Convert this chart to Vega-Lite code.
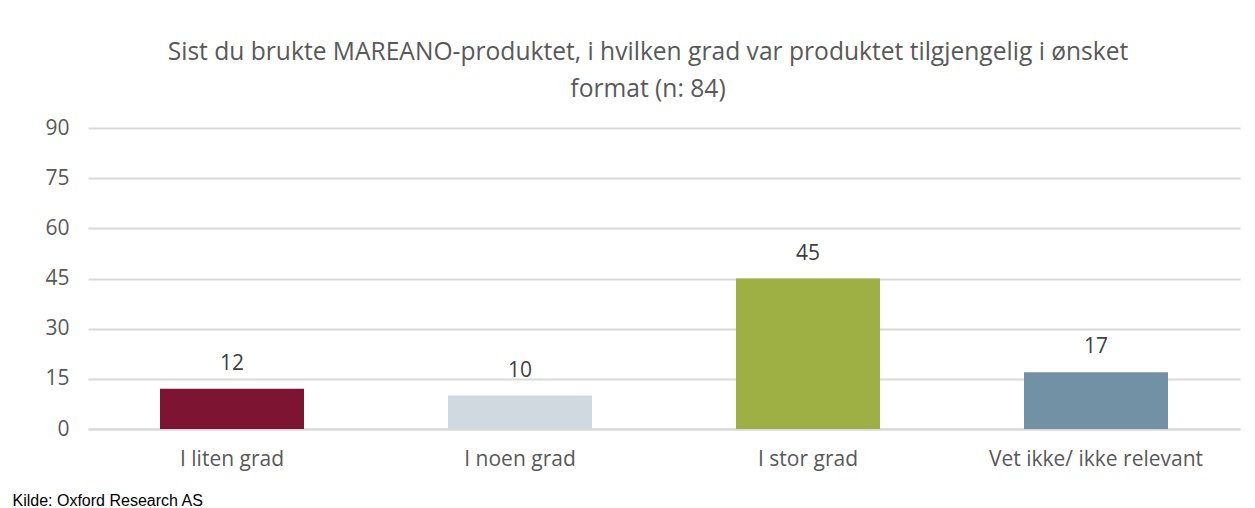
{
  "$schema": "https://vega.github.io/schema/vega-lite/v6.json",
  "autosize": "none",
  "width": 1152,
  "height": 301,
  "padding": {"left": 88, "top": 128, "right": 15, "bottom": 79},
  "background": "white",
  "title": {
    "text": ["Sist du brukte MAREANO-produktet, i hvilken grad var produktet tilgjengelig i ønsket", "format (n: 84)"],
    "font": "Open Sans",
    "fontSize": 24.6,
    "fontWeight": "normal",
    "color": "#595959",
    "lineHeight": 37,
    "anchor": "middle",
    "dx": -16,
    "offset": 14
  },
  "data": {
    "values": [
      {"kategori": "I liten grad", "antall": 12},
      {"kategori": "I noen grad", "antall": 10},
      {"kategori": "I stor grad", "antall": 45},
      {"kategori": "Vet ikke/ ikke relevant", "antall": 17}
    ]
  },
  "encoding": {
    "x": {
      "field": "kategori",
      "type": "nominal",
      "sort": null,
      "scale": {"paddingInner": 0.5, "paddingOuter": 0.25},
      "axis": {
        "title": "Kilde: Oxford Research AS",
        "titleFont": "Liberation Sans",
        "titleFontSize": 16,
        "titleFontWeight": "normal",
        "titleColor": "#000000",
        "titleAnchor": "start",
        "titleAlign": "left",
        "titleBaseline": "middle",
        "titleX": -76,
        "titleY": 71,
        "labelAngle": 0,
        "labelLimit": 0,
        "labelFont": "Open Sans",
        "labelFontSize": 21,
        "labelColor": "#595959",
        "labelPadding": 19,
        "ticks": false,
        "domainColor": "#d9d9d9",
        "domainWidth": 2
      }
    },
    "y": {
      "field": "antall",
      "type": "quantitative",
      "scale": {"domain": [0, 90]},
      "axis": {
        "title": null,
        "values": [0, 15, 30, 45, 60, 75, 90],
        "labelFont": "Open Sans",
        "labelFontSize": 21,
        "labelColor": "#595959",
        "labelPadding": 19,
        "ticks": false,
        "domain": false,
        "gridColor": "#d9d9d9",
        "gridWidth": 2
      }
    }
  },
  "layer": [
    {
      "mark": {"type": "bar"},
      "encoding": {
        "color": {
          "field": "kategori",
          "type": "nominal",
          "sort": null,
          "scale": {
            "domain": ["I liten grad", "I noen grad", "I stor grad", "Vet ikke/ ikke relevant"],
            "range": ["#7c1432", "#d1d9e0", "#9eaf44", "#7391a4"]
          },
          "legend": null
        }
      }
    },
    {
      "mark": {"type": "text", "baseline": "bottom", "dy": -15, "font": "Open Sans", "fontSize": 21, "color": "#404040"},
      "encoding": {
        "text": {"field": "antall", "type": "quantitative"}
      }
    }
  ],
  "config": {"view": {"stroke": null}}
}
